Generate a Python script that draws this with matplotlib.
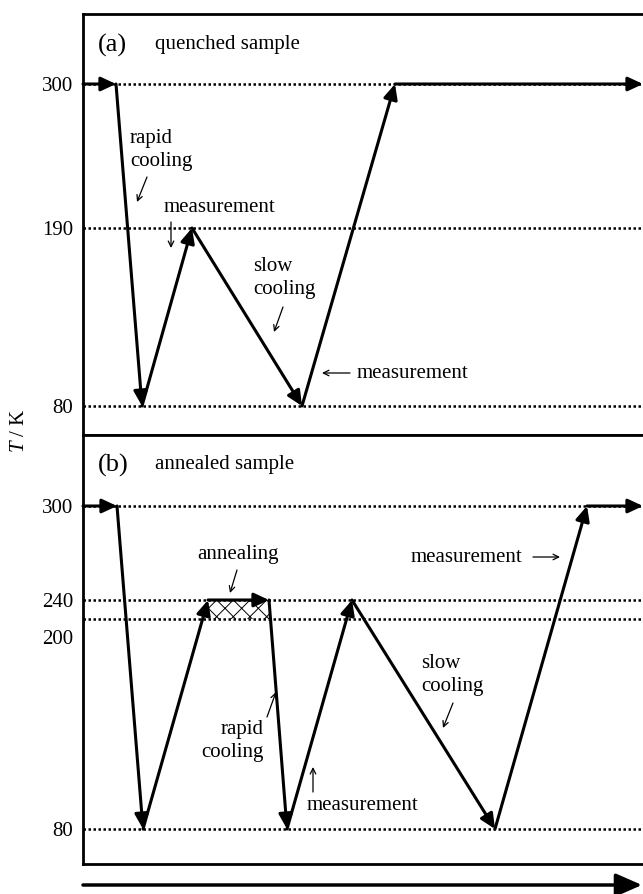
import matplotlib.pyplot as plt
import numpy as np
from matplotlib.patches import FancyArrowPatch
from matplotlib.transforms import ScaledTranslation

plt.rcParams['font.family'] = ['Liberation Serif', 'DejaVu Serif']
plt.rcParams['mathtext.fontset'] = 'custom'
plt.rcParams['mathtext.rm'] = 'Liberation Serif'
plt.rcParams['mathtext.it'] = 'Liberation Serif:italic'
plt.rcParams['hatch.linewidth'] = 0.7

# (a) quenched sample: time (schematic) and temperature of each step
time_a = [0, 33, 59, 109, 219, 312, 560]
temp_a = [300, 300, 80, 190, 80, 300, 300]
levels_a = [300, 190, 80]

# (b) annealed sample
time_b = [0, 34, 60, 125, 186, 204, 269, 412, 504, 560]
temp_b = [300, 300, 80, 240, 240, 80, 240, 80, 300, 300]
levels_b = [300, 240, 200, 80]
anneal_time = [125, 186]
anneal_temp = [200, 240]

# schematic (non-linear) temperature scale used in the drawing
scale_a_T = [80, 190, 300]
scale_a_h = [0, 178, 322]
scale_b_T = [80, 200, 240, 300]
scale_b_h = [0, 210, 229, 323]

FS = 15


def h_a(T):
    return np.interp(T, scale_a_T, scale_a_h)


def h_b(T):
    return np.interp(T, scale_b_T, scale_b_h)


def draw_path(ax, t, h):
    for i in range(len(t) - 1):
        ax.annotate('', xy=(t[i + 1], h[i + 1]), xytext=(t[i], h[i]),
                    arrowprops=dict(arrowstyle='-|>,head_length=0.6,head_width=0.28',
                                    lw=2.2, color='k', shrinkA=0, shrinkB=0,
                                    mutation_scale=15))


def small_arrow(ax, start, end):
    ax.annotate('', xy=end, xytext=start,
                arrowprops=dict(arrowstyle='->', lw=0.9, color='k',
                                shrinkA=0, shrinkB=0))


def setup(ax, levels, hfun, ylim):
    ax.set_xlim(0, 565)
    ax.set_ylim(*ylim)
    ax.hlines(hfun(levels), 0, 565, colors='k', lw=1.8, linestyles=(0, (1, 1)))
    ax.set_xticks([])
    ax.set_yticks(hfun(levels))
    ax.set_yticklabels([str(v) for v in levels])
    ax.tick_params(axis='y', length=0, pad=7, labelsize=FS)
    for s in ax.spines.values():
        s.set_linewidth(2)


fig = plt.figure(figsize=(6.43, 8.94), dpi=100)
ax_a = fig.add_axes([83 / 643, 1 - 435 / 894, 565 / 643, 421 / 894])
ax_b = fig.add_axes([83 / 643, 1 - 864 / 894, 565 / 643, 429 / 894])

# panel (a)
setup(ax_a, levels_a, h_a, (-29, 392))
draw_path(ax_a, time_a, h_a(temp_a))
ax_a.text(15, 361, '(a)', fontsize=19, va='center')
ax_a.text(72, 361, 'quenched sample', fontsize=FS, va='center')
ax_a.text(47, 256, 'rapid\ncooling', fontsize=FS, va='center', linespacing=1.25)
small_arrow(ax_a, (64, 229), (54, 204))
ax_a.text(81, 199, 'measurement', fontsize=FS, va='center')
small_arrow(ax_a, (88, 184), (88, 158))
ax_a.text(170, 128, 'slow\ncooling', fontsize=FS, va='center', linespacing=1.25)
small_arrow(ax_a, (200, 99), (191, 74))
ax_a.text(274, 33, 'measurement', fontsize=FS, va='center')
small_arrow(ax_a, (267, 33), (239, 33))

# panel (b)
setup(ax_b, levels_b, h_b, (-35, 394))
for lab in ax_b.get_yticklabels():
    if lab.get_text() == '200':
        lab.set_transform(lab.get_transform() +
                          ScaledTranslation(0, -0.18, fig.dpi_scale_trans))
ax_b.fill_between(anneal_time, h_b(anneal_temp[0]), h_b(anneal_temp[1]),
                  facecolor='white', edgecolor='k', hatch='xx', lw=0)
draw_path(ax_b, time_b, h_b(temp_b))
ax_b.text(15, 364, '(b)', fontsize=19, va='center')
ax_b.text(72, 364, 'annealed sample', fontsize=FS, va='center')
ax_b.text(114, 274, 'annealing', fontsize=FS, va='center')
small_arrow(ax_b, (154, 259), (147, 236))
ax_b.text(181, 88, 'rapid\ncooling', fontsize=FS, va='center', ha='right',
          multialignment='right', linespacing=1.25)
small_arrow(ax_b, (184, 112), (193, 137))
small_arrow(ax_b, (230, 37), (230, 62))
ax_b.text(224, 24, 'measurement', fontsize=FS, va='center')
ax_b.text(338, 154, 'slow\ncooling', fontsize=FS, va='center', linespacing=1.25)
small_arrow(ax_b, (370, 126), (360, 101))
ax_b.text(328, 272, 'measurement', fontsize=FS, va='center')
small_arrow(ax_b, (450, 272), (477, 272))

# y label and time arrow
fig.text(20 / 643, 1 - 431 / 894, r'$T$ / K', rotation=90, ha='center',
         va='center', fontsize=FS)
fig.add_artist(FancyArrowPatch((83 / 643, 9 / 894), (642 / 643, 9 / 894),
                               transform=fig.transFigure,
                               arrowstyle='-|>,head_length=0.8,head_width=0.35',
                               mutation_scale=20, lw=2.5, color='k',
                               shrinkA=0, shrinkB=0))

fig.savefig('out.png', dpi=100)
